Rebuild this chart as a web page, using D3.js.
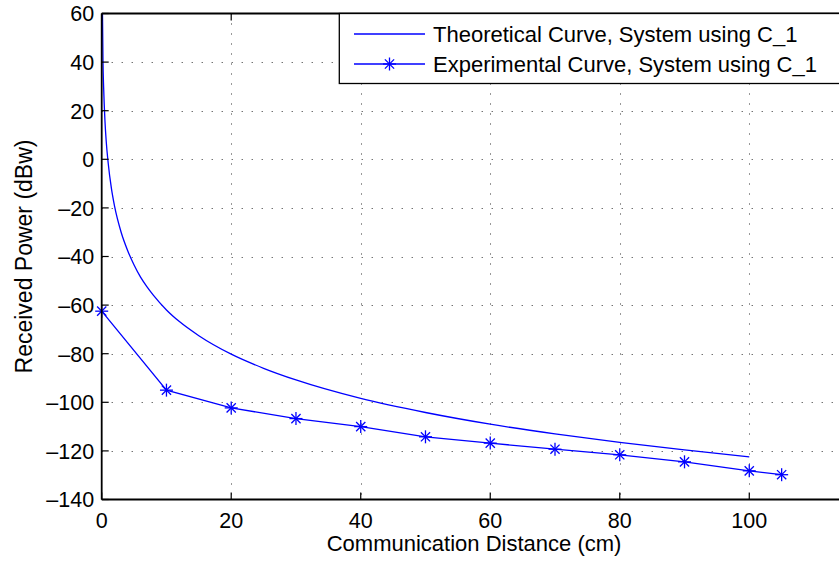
<!DOCTYPE html>
<html lang="en">
  <head>
    <meta charset="utf-8" />
    <title>Received Power vs Distance</title>
    <script type="text/javascript" src="https://cdn.jsdelivr.net/npm/d3@7"></script>
    <style type="text/css">
body {
  margin: 0;
  background: white;
}
svg text {
  font-family: "Liberation Sans", Arial, sans-serif;
  fill: black;
}
    </style>
  </head>
  <body>
    <script type="text/javascript">
// values
var theoDist = [0.12, 0.2, 0.3, 0.5, 0.7, 1, 1.5, 2, 3, 4, 5, 6, 7, 8, 10, 12,
                15, 20, 25, 30, 40, 50, 60, 70, 80, 90, 100];
var theoPower = [60, 40, 29.5, 16, 7.3, -1.5, -12, -19.5, -30, -37.5, -43.5,
                 -48.5, -52.5, -56, -62, -66.8, -72.6, -80.2, -86, -90.8, -98.4,
                 -104.2, -109, -113, -116.5, -119.6, -122.5];
var expDist = [0, 10, 20, 30, 40, 50, 60, 70, 80, 90, 100, 105];
var expPower = [-62.5, -95, -102.3, -106.7, -110, -114.2, -116.8, -119.3,
                -121.6, -124.5, -128.2, -129.8];
var xTicks = [0, 20, 40, 60, 80, 100, 120];
var yTicks = [60, 40, 20, 0, -20, -40, -60, -80, -100, -120, -140];
var legendLabels = ["Theoretical Curve, System using C_1",
                    "Experimental Curve, System using C_1"];

var w = 839;
var h = 563;
var pad = { left: 101.7, right: 846.4, top: 13.5, bottom: 499.5 };
var blue = "#0000ff";

var svg = d3.select("body")
            .append("svg")
            .attr("width", w)
            .attr("height", h);

var xScale = d3.scaleLinear()
               .domain([0, 115])
               .range([pad.left, pad.right]);
var yScale = d3.scaleLinear()
               .domain([-140, 60])
               .range([pad.bottom, pad.top]);

function fmt(v) {
  return v < 0 ? "\u2013" + Math.abs(v) : String(v);
}

// dotted grid
var grid = svg.append("g").attr("id", "grid");
grid.selectAll("line.gx")
    .data(xTicks.filter(function(d) { return d > 0 && d < 115; }))
    .enter()
    .append("line")
    .attr("class", "gx")
    .attr("x1", function(d) { return Math.round(xScale(d)) + 0.5; })
    .attr("x2", function(d) { return Math.round(xScale(d)) + 0.5; })
    .attr("y1", pad.top)
    .attr("y2", pad.bottom);
grid.selectAll("line.gy")
    .data(yTicks.filter(function(d) { return d > -140 && d < 60; }))
    .enter()
    .append("line")
    .attr("class", "gy")
    .attr("x1", pad.left)
    .attr("x2", pad.right)
    .attr("y1", function(d) { return Math.round(yScale(d)) + 0.5; })
    .attr("y2", function(d) { return Math.round(yScale(d)) + 0.5; });
grid.selectAll("line")
    .attr("stroke", "#333")
    .attr("stroke-width", 1)
    .attr("stroke-dasharray", "1,9");

var theoData = theoDist.map(function(d, i) { return [d, theoPower[i]]; });
var expData = expDist.map(function(d, i) { return [d, expPower[i]]; });

var line = d3.line()
             .x(function(d) { return xScale(d[0]); })
             .y(function(d) { return yScale(d[1]); });

// theoretical curve
svg.append("path")
   .datum(theoData)
   .attr("fill", "none")
   .attr("stroke", blue)
   .attr("stroke-width", 1.3)
   .attr("d", line.curve(d3.curveMonotoneX));

// experimental curve
svg.append("path")
   .datum(expData)
   .attr("fill", "none")
   .attr("stroke", blue)
   .attr("stroke-width", 1.3)
   .attr("d", line.curve(d3.curveLinear));

// asterisk marker like matlab's '*'
function star(g, cx, cy) {
  var a = 6.5, b = 4.6;
  var segs = [[-a, 0, a, 0], [0, -a, 0, a], [-b, -b, b, b], [-b, b, b, -b]];
  segs.forEach(function(s) {
    g.append("line")
     .attr("x1", cx + s[0]).attr("y1", cy + s[1])
     .attr("x2", cx + s[2]).attr("y2", cy + s[3])
     .attr("stroke", blue)
     .attr("stroke-width", 1.3);
  });
}
var markers = svg.append("g").attr("id", "markers");
expData.forEach(function(d) {
  star(markers, xScale(d[0]), yScale(d[1]));
});

// axes box
var axes = svg.append("g").attr("id", "axes");
axes.append("line")
    .attr("x1", pad.left).attr("x2", pad.right)
    .attr("y1", pad.bottom).attr("y2", pad.bottom);
axes.append("line")
    .attr("x1", pad.left).attr("x2", pad.right)
    .attr("y1", pad.top).attr("y2", pad.top);
axes.append("line")
    .attr("x1", pad.left).attr("x2", pad.left)
    .attr("y1", pad.top).attr("y2", pad.bottom);
axes.selectAll("line")
    .attr("stroke", "black")
    .attr("stroke-width", 1.8);

var tickLen = 7;
xTicks.filter(function(d) { return d < 115; }).forEach(function(d) {
  axes.append("line")
      .attr("x1", xScale(d)).attr("x2", xScale(d))
      .attr("y1", pad.bottom).attr("y2", pad.bottom - tickLen)
      .attr("stroke", "black").attr("stroke-width", 1.2);
  axes.append("line")
      .attr("x1", xScale(d)).attr("x2", xScale(d))
      .attr("y1", pad.top).attr("y2", pad.top + tickLen)
      .attr("stroke", "black").attr("stroke-width", 1.2);
});
yTicks.forEach(function(d) {
  axes.append("line")
      .attr("x1", pad.left).attr("x2", pad.left + tickLen)
      .attr("y1", yScale(d)).attr("y2", yScale(d))
      .attr("stroke", "black").attr("stroke-width", 1.2);
});

// tick labels
svg.append("g")
   .selectAll("text")
   .data(xTicks.filter(function(d) { return d < 115; }))
   .enter()
   .append("text")
   .attr("x", function(d) { return xScale(d); })
   .attr("y", 528)
   .attr("text-anchor", "middle")
   .attr("font-size", "21.5px")
   .text(fmt);
svg.append("g")
   .selectAll("text")
   .data(yTicks)
   .enter()
   .append("text")
   .attr("x", pad.left - 7.5)
   .attr("y", function(d) { return yScale(d) + 7.8; })
   .attr("text-anchor", "end")
   .attr("font-size", "21.5px")
   .text(fmt);

// axis titles
svg.append("text")
   .attr("x", (pad.left + pad.right) / 2)
   .attr("y", 551)
   .attr("text-anchor", "middle")
   .attr("font-size", "22px")
   .text("Communication Distance (cm)");
svg.append("text")
   .attr("transform", "translate(32.3," + ((pad.top + pad.bottom) / 2) + ") rotate(-90)")
   .attr("text-anchor", "middle")
   .attr("font-size", "23px")
   .text("Received Power (dBw)");

// legend
var legend = svg.append("g").attr("id", "legend");
legend.append("rect")
      .attr("x", 339.3)
      .attr("y", pad.top)
      .attr("width", 520)
      .attr("height", 83.5 - pad.top)
      .attr("fill", "white")
      .attr("stroke", "black")
      .attr("stroke-width", 1.3);
var rowY = [34, 64];
legendLabels.forEach(function(lab, i) {
  legend.append("line")
        .attr("x1", 354).attr("x2", 425)
        .attr("y1", rowY[i]).attr("y2", rowY[i])
        .attr("stroke", blue)
        .attr("stroke-width", 1.3);
  if (i === 1) star(legend, 389.5, rowY[i]);
  legend.append("text")
        .attr("x", 433)
        .attr("y", rowY[i] + 7.8)
        .attr("font-size", "22px")
        .text(lab);
});
    </script>
  </body>
</html>
